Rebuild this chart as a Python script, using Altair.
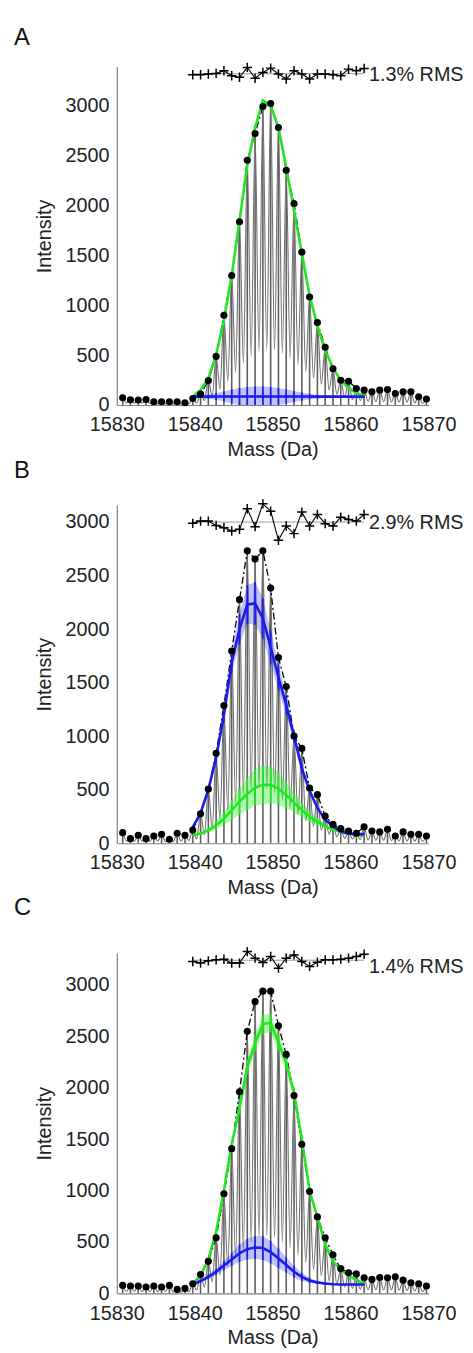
import altair as alt
import pandas as pd

# ---------------- data ----------------
MASS = [15830.75, 15831.75, 15832.75, 15833.75, 15834.75, 15835.75, 15836.75, 15837.75,
        15838.75, 15839.75, 15840.75, 15841.75, 15842.75, 15843.75, 15844.75, 15845.75,
        15846.75, 15847.75, 15848.75, 15849.75, 15850.75, 15851.75, 15852.75, 15853.75,
        15854.75, 15855.75, 15856.75, 15857.75, 15858.75, 15859.75, 15860.75, 15861.75,
        15862.75, 15863.75, 15864.75, 15865.75, 15866.75, 15867.75, 15868.75, 15869.75]
FIT_MASS = MASS[9:32]

# Panel A
A_DOTS = [72, 52, 50, 55, 33, 33, 33, 33, 23, 66, 110, 245, 487, 900, 1297, 1837, 2453, 2721, 2992, 3022,
          2781, 2353, 2019, 1532, 1082, 827, 579, 364, 248, 238, 166, 149, 132, 149, 155, 116, 132, 132, 83, 60]
A_VALLEYS = [20, 18, 18, 15, 12, 12, 12, 10, 12, 20, 45, 90, 160, 240, 330, 420, 490, 540, 560,
             550, 520, 470, 410, 340, 270, 210, 150, 105, 75, 55, 45, 38, 35, 35, 30, 30, 28, 22, 18]
A_GREEN = [85, 150, 270, 500, 850, 1300, 1850, 2400, 2780, 3050, 3000, 2780, 2380, 1950, 1520, 1100,
           790, 550, 370, 250, 170, 120, 90]
A_GREEN_HW = [0, 0, 0, 5, 8, 10, 12, 15, 18, 20, 20, 18, 15, 12, 10, 8, 5, 3, 0, 0, 0, 0, 0]
A_BLUE = [84, 84, 84, 85, 85, 85, 86, 86, 86, 86, 86, 86, 85, 85, 85, 85, 84, 84, 84, 84, 84, 84, 84]
A_BLUE_HW = [5, 10, 20, 35, 50, 70, 85, 95, 100, 100, 95, 85, 70, 55, 40, 28, 18, 12, 8, 5, 5, 5, 5]
A_RESID = [-10, -10, -3, 3, 30, -20, -36, 63, -46, 13, 56, -3, -53, 30, -3, -53, -3, -3, -10, -20, 46, 30, 53]
A_BASE = 3320
A_RMS = "1.3% RMS"

# Panel B
B_DOTS = [99, 43, 74, 43, 68, 83, 37, 93, 74, 123, 275, 506, 840, 1287, 1796, 2275, 2731, 2654, 2731, 2383,
          1734, 1463, 1000, 886, 516, 454, 253, 176, 136, 114, 93, 154, 114, 106, 130, 68, 106, 83, 83, 68]
B_VALLEYS = [20, 18, 18, 18, 20, 15, 15, 18, 25, 40, 80, 140, 220, 300, 380, 450, 500, 520, 510,
             470, 410, 340, 270, 210, 160, 120, 85, 60, 45, 38, 35, 30, 28, 28, 25, 22, 22, 20, 18]
B_GREEN = [75, 90, 120, 165, 230, 310, 390, 460, 520, 545, 545, 510, 450, 380, 310, 250, 200, 160,
           130, 105, 90, 78, 70]
B_GREEN_HW = [5, 10, 20, 40, 60, 90, 120, 150, 170, 180, 170, 150, 120, 90, 70, 50, 35, 25, 15, 10, 8, 5, 5]
B_BLUE = [150, 280, 500, 800, 1200, 1690, 2000, 2230, 2240, 2100, 1830, 1550, 1290, 1000, 700, 490,
          330, 220, 160, 110, 90, 85, 85]
B_BLUE_HW = [10, 20, 30, 50, 70, 100, 140, 180, 200, 190, 160, 120, 90, 60, 40, 25, 15, 10, 8, 5, 5, 5, 5]
B_RESID = [-12, 9, 9, -31, -52, -83, -68, 124, -43, 170, 102, -170, -37, -108, 93, -37, 71, -15, -37, 46, 25, 9, 71]
B_BASE = 3000
B_RMS = "2.9% RMS"

# Panel C
C_DOTS = [77, 71, 71, 61, 71, 61, 77, 38, 48, 93, 183, 311, 541, 968, 1407, 1961, 2548, 2837, 2939, 2939,
          2603, 2324, 1923, 1449, 990, 743, 541, 375, 240, 199, 189, 151, 135, 154, 151, 160, 128, 103, 93, 71]
C_VALLEYS = [18, 18, 16, 16, 16, 18, 12, 10, 15, 30, 60, 110, 180, 260, 350, 430, 500, 545, 560,
             540, 500, 440, 370, 300, 230, 170, 120, 85, 60, 48, 40, 35, 33, 33, 33, 30, 26, 22, 18]
C_GREEN = [90, 170, 330, 600, 1000, 1450, 1800, 2200, 2430, 2620, 2630, 2440, 2240, 1950, 1500, 1000,
           740, 480, 310, 230, 170, 130, 95]
C_GREEN_HW = [3, 5, 10, 15, 25, 40, 55, 70, 80, 90, 90, 80, 70, 55, 40, 30, 20, 15, 10, 8, 5, 5, 5]
C_BLUE = [85, 120, 160, 210, 270, 330, 390, 430, 445, 440, 400, 340, 275, 210, 160, 125, 105, 95, 88,
          85, 85, 85, 85]
C_BLUE_HW = [5, 10, 20, 30, 45, 65, 85, 100, 110, 115, 110, 95, 75, 55, 40, 25, 15, 10, 8, 5, 5, 5, 5]
C_RESID = [-12, -28, -6, 4, 10, -28, -28, 84, 20, -22, 36, -77, 20, 52, -12, -60, -19, 4, 4, 10, 20, 36, 58]
C_BASE = 3240
C_RMS = "1.4% RMS"

X_TICKS = [15830, 15840, 15850, 15860, 15870]
Y_TICKS = [0, 500, 1000, 1500, 2000, 2500, 3000]

GREEN = "#1ee81e"
BLUE = "#1a1aee"
GRAY = "#5e5e5e"
FONT = "Liberation Sans"


def panel(letter, dots, valleys, green, green_hw, blue, blue_hw, resid, base, rms,
          ymax, height, letter_y, rms_dy):
    xs = alt.Scale(domain=[15830, 15870], nice=False, zero=False)
    ys = alt.Scale(domain=[0, ymax], nice=False, zero=False)
    xax = alt.Axis(values=X_TICKS, format="d", ticks=False, labelPadding=10, titlePadding=5,
                   grid=False, labelFlush=False, labelOverlap=False)
    yax = alt.Axis(values=Y_TICKS, format="d", ticks=False, labelPadding=8, titlePadding=11,
                   grid=False, labelFlush=False, labelOverlap=False)

    def X(f):
        return alt.X(f, type="quantitative", scale=xs, axis=xax, title="Mass (Da)")

    def Y(f):
        return alt.Y(f, type="quantitative", scale=ys, axis=yax, title="Intensity")

    # spectrum: peaks and valleys interleaved
    sm, si = [], []
    for k in range(len(MASS)):
        sm.append(MASS[k]); si.append(dots[k])
        if k < len(valleys):
            sm.append((MASS[k] + MASS[k + 1]) / 2); si.append(valleys[k])
    spec = pd.DataFrame({"mass": sm, "I": si})
    dotdf = pd.DataFrame({"mass": MASS, "I": dots})
    fitdots = pd.DataFrame({"mass": FIT_MASS, "I": dots[9:32]})
    fit = pd.DataFrame({
        "mass": FIT_MASS,
        "g": green, "glo": [g - h for g, h in zip(green, green_hw)], "ghi": [g + h for g, h in zip(green, green_hw)],
        "b": blue, "blo": [b - h for b, h in zip(blue, blue_hw)], "bhi": [b + h for b, h in zip(blue, blue_hw)],
    })
    res = pd.DataFrame({"mass": FIT_MASS, "r": [base + r for r in resid]})
    ref = pd.DataFrame({"mass": [FIT_MASS[0]], "m2": [FIT_MASS[-1]], "y": [base]})
    txt = pd.DataFrame({"mass": [FIT_MASS[-1]], "y": [base], "t": [rms]})

    stems = alt.Chart(dotdf).mark_rule(color=GRAY, strokeWidth=1.6).encode(
        x=X("mass"), y=Y("I"), y2=alt.datum(0))
    specline = alt.Chart(spec).mark_line(color="#707070", strokeWidth=1.1, interpolate="monotone").encode(
        x=X("mass"), y=Y("I"))
    gband = alt.Chart(fit).mark_area(color=GREEN, opacity=0.35, clip=True).encode(
        x=X("mass"), y=Y("glo"), y2="ghi")
    bband = alt.Chart(fit).mark_area(color=BLUE, opacity=0.28, clip=True).encode(
        x=X("mass"), y=Y("blo"), y2="bhi")
    gerr = alt.Chart(fit).mark_rule(color=GREEN, strokeWidth=1.5, clip=True).encode(
        x=X("mass"), y=Y("glo"), y2="ghi")
    berr = alt.Chart(fit).mark_rule(color=BLUE, strokeWidth=1.5, clip=True).encode(
        x=X("mass"), y=Y("blo"), y2="bhi")
    gline = alt.Chart(fit).mark_line(color=GREEN, strokeWidth=2.6).encode(x=X("mass"), y=Y("g"))
    bline = alt.Chart(fit).mark_line(color=BLUE, strokeWidth=2.6).encode(x=X("mass"), y=Y("b"))
    dash = alt.Chart(fitdots).mark_line(color="black", strokeWidth=1.3, strokeDash=[7, 3, 2, 3]).encode(
        x=X("mass"), y=Y("I"))
    pts = alt.Chart(dotdf).mark_circle(color="black", size=52, opacity=1).encode(
        x=X("mass"), y=Y("I"))
    refline = alt.Chart(ref).mark_rule(color="#9a9a9a", strokeWidth=1).encode(
        x=X("mass"), x2="m2", y=Y("y"))
    rline = alt.Chart(res).mark_line(color="black", strokeWidth=1.1).encode(x=X("mass"), y=Y("r"))
    rpts = alt.Chart(res).mark_point(shape="M-1,0L1,0M0,-1L0,1", filled=False, color="black",
                                     strokeWidth=1.5, size=90, opacity=1).encode(
        x=X("mass"), y=Y("r"))
    rtxt = alt.Chart(txt).mark_text(align="left", baseline="middle", fontSize=20, font=FONT,
                                    color="#222222", dx=5, dy=rms_dy).encode(
        x=X("mass"), y=Y("y"), text="t:N")
    lab = alt.Chart(alt.Data(values=[{"t": letter}])).mark_text(
        align="left", baseline="alphabetic", fontSize=24, font=FONT, color="#111111").encode(
        x=alt.value(-104), y=alt.value(letter_y), text="t:N")

    return alt.layer(stems, specline, dash, gband, bband, gerr, berr, gline, bline, pts,
                     refline, rline, rpts, rtxt, lab).properties(width=315, height=height)


pA = panel("A", A_DOTS, A_VALLEYS, A_GREEN, A_GREEN_HW, A_BLUE, A_BLUE_HW, A_RESID, A_BASE, A_RMS,
           3390, 342, -22, 1)
pB = panel("B", B_DOTS, B_VALLEYS, B_GREEN, B_GREEN_HW, B_BLUE, B_BLUE_HW, B_RESID, B_BASE, B_RMS,
           3160, 342, -27, 1)
pC = panel("C", C_DOTS, C_VALLEYS, C_GREEN, C_GREEN_HW, C_BLUE, C_BLUE_HW, C_RESID, C_BASE, C_RMS,
           3310, 344, -38, 7)

chart = alt.vconcat(
    pA,
    alt.vconcat(pB, pC, spacing=111, bounds="flush"),
    spacing=101, bounds="flush",
).properties(
    padding={"left": 5, "top": 10, "right": 0, "bottom": 0}
).configure_view(stroke="transparent").configure_axis(
    domainColor="#808080", domainWidth=1.2,
    labelFont=FONT, labelFontSize=20, labelColor="#222222",
    titleFont=FONT, titleFontSize=20, titleFontWeight="normal", titleColor="#222222",
)

chart.save("out.html", embed_options={"renderer": "svg", "actions": False})
